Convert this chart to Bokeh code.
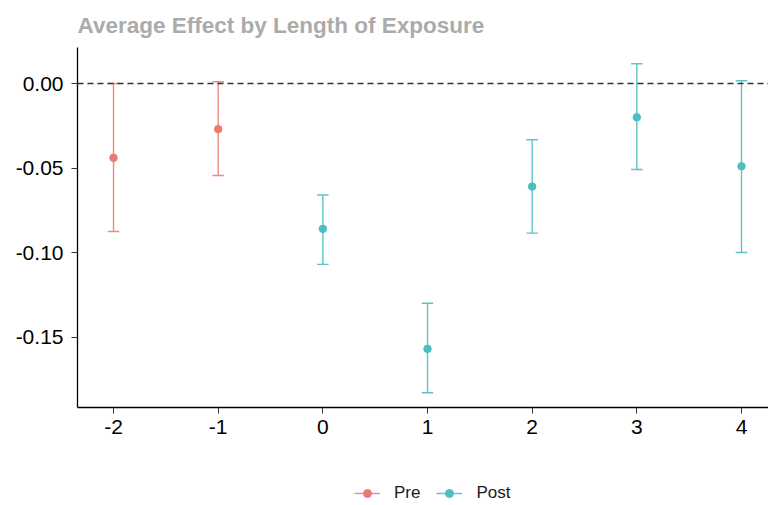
from bokeh.plotting import figure
from bokeh.layouts import column
from bokeh.models import ColumnDataSource, Span, Legend, LegendItem, FixedTicker, PrintfTickFormatter, Range1d
from bokeh.embed import file_html
from bokeh.resources import INLINE

periods = [-2, -1, 0, 1, 2, 3, 4]
estimate = [-0.044, -0.027, -0.086, -0.157, -0.061, -0.020, -0.049]
lower = [-0.0876, -0.0544, -0.107, -0.183, -0.0885, -0.0509, -0.100]
upper = [0.000, 0.001, -0.066, -0.130, -0.0333, 0.0117, 0.0016]
group = ["Pre", "Pre", "Post", "Post", "Post", "Post", "Post"]

point_colors = {"Pre": "#EC7A70", "Post": "#4EBDC2"}
bar_colors = {"Pre": "#EE8A82", "Post": "#5EC3C8"}
FONT = "Liberation Sans"
cap_half = 0.055

p = figure(width=768, height=447, output_backend="svg", toolbar_location=None,
           x_range=Range1d(-2.344, 4.258), y_range=Range1d(-0.1917, 0.0213))
p.min_border_left = 77
p.min_border_right = 0
p.min_border_top = 47
p.min_border_bottom = 40
p.outline_line_color = None
p.xgrid.visible = False
p.ygrid.visible = False

p.title.text = "Average Effect by Length of Exposure"
p.title.align = "left"
p.title.text_font = FONT
p.title.text_font_size = "22.5px"
p.title.text_font_style = "bold"
p.title.text_color = "#ABABAB"
p.title.standoff = 20

p.add_layout(Span(location=0, dimension="width", line_color="#333333",
                  line_dash="6 4", line_width=1.3))

# legend-only figure below the main plot (its proxy glyphs fall outside its ranges)
lf = figure(width=768, height=57, output_backend="svg", toolbar_location=None,
            x_range=Range1d(100, 101), y_range=Range1d(100, 101))
lf.axis.visible = False
lf.grid.visible = False
lf.outline_line_color = None
lf.min_border = 0

items = []
for g in ["Pre", "Post"]:
    idx = [i for i, v in enumerate(group) if v == g]
    src = ColumnDataSource(dict(
        x=[periods[i] for i in idx],
        y=[estimate[i] for i in idx],
        lo=[lower[i] for i in idx],
        hi=[upper[i] for i in idx],
        x0=[periods[i] - cap_half for i in idx],
        x1=[periods[i] + cap_half for i in idx],
    ))
    bc = bar_colors[g]
    pc = point_colors[g]
    p.segment(x0="x", y0="lo", x1="x", y1="hi", source=src, line_color=bc, line_width=1.4)
    p.segment(x0="x0", y0="lo", x1="x1", y1="lo", source=src, line_color=bc, line_width=1.4)
    p.segment(x0="x0", y0="hi", x1="x1", y1="hi", source=src, line_color=bc, line_width=1.4)
    p.scatter(x="x", y="y", source=src, size=7.5, fill_color=pc, line_color=pc)
    proxy = ColumnDataSource(dict(x=[periods[idx[0]]], y=[estimate[idx[0]]]))
    lr = lf.line(x="x", y="y", source=proxy, line_color=bc, line_width=1.4)
    sr = lf.scatter(x="x", y="y", source=proxy, size=6.5, fill_color=pc, line_color=pc)
    items.append(LegendItem(label=g, renderers=[lr, sr]))

legend = Legend(items=items, orientation="horizontal", location=(277, 1),
                border_line_color=None, background_fill_alpha=0,
                label_text_font=FONT, label_text_font_size="17px", label_text_color="#1a1a1a",
                glyph_width=26, glyph_height=20, label_standoff=14, spacing=16,
                padding=0, margin=0)
lf.add_layout(legend)

for ax in (p.xaxis, p.yaxis):
    ax.axis_line_color = "black"
    ax.axis_line_width = 1.3
    ax.major_tick_line_color = "#333333"
    ax.major_tick_in = 0
    ax.major_tick_out = 6
    ax.minor_tick_line_color = None
    ax.major_label_text_font = FONT
    ax.major_label_text_font_size = "21px"
    ax.major_label_text_color = "black"
    ax.major_label_standoff = 8

p.xaxis.major_label_standoff = 6

p.xaxis.ticker = FixedTicker(ticks=periods)
p.xaxis.formatter = PrintfTickFormatter(format="%d")
p.yaxis.ticker = FixedTicker(ticks=[0.0, -0.05, -0.10, -0.15])
p.yaxis.formatter = PrintfTickFormatter(format="%.2f")

layout = column(p, lf, spacing=0)
open("out.html", "w").write(file_html(layout, INLINE))
